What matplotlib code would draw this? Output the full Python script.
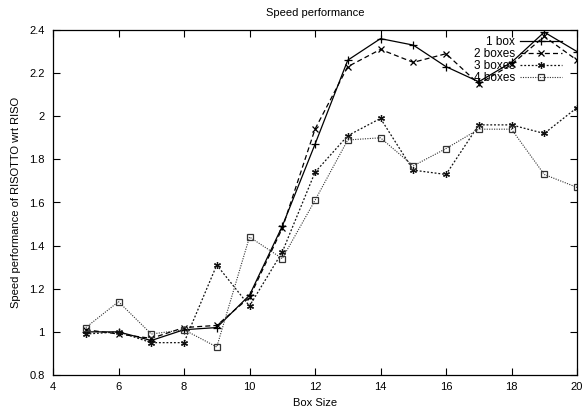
import matplotlib
matplotlib.use("Agg")
import matplotlib.pyplot as plt

plt.rcParams['font.family'] = ['Liberation Sans', 'DejaVu Sans']

box_size = [5, 6, 7, 8, 9, 10, 11, 12, 13, 14, 15, 16, 17, 18, 19, 20]
one_box = [1.00, 1.00, 0.96, 1.01, 1.02, 1.17, 1.49, 1.87, 2.26, 2.36, 2.33, 2.23, 2.16, 2.25, 2.39, 2.30]
two_boxes = [1.01, 0.99, 0.97, 1.02, 1.03, 1.16, 1.48, 1.94, 2.23, 2.31, 2.25, 2.29, 2.15, 2.24, 2.37, 2.26]
three_boxes = [0.99, 1.00, 0.95, 0.95, 1.31, 1.12, 1.37, 1.74, 1.91, 1.99, 1.75, 1.73, 1.96, 1.96, 1.92, 2.04]
four_boxes = [1.02, 1.14, 0.99, 1.01, 0.93, 1.44, 1.34, 1.61, 1.89, 1.90, 1.77, 1.85, 1.94, 1.94, 1.73, 1.67]

fig = plt.figure(figsize=(5.82, 4.11), dpi=100)
L, R, T, B = 53, 577, 30, 375
ax = fig.add_axes([L/582, 1 - B/411, (R-L)/582, (B-T)/411])

ax.plot(box_size, one_box, color='black', lw=0.9, ls='-', marker='+', ms=6, mew=0.9, label='1 box')
ax.plot(box_size, two_boxes, color='black', lw=0.9, ls=(0, (4, 2.5)), marker='x', ms=5, mew=0.9, label='2 boxes')
ax.plot(box_size, three_boxes, color='#111111', lw=0.9, ls=(0, (1.5, 1.5)), marker=(6, 2, 0), ms=5, mew=0.9, label='3 boxes')
ax.plot(box_size, four_boxes, color='#333333', lw=0.8, ls=(0, (1, 1.2)), marker='s', ms=5, mfc='none', mew=0.9, label='4 boxes')

ax.set_xlim(4, 20)
ax.set_ylim(0.8, 2.4)
ax.set_xticks([4, 6, 8, 10, 12, 14, 16, 18, 20])
ax.set_yticks([0.8, 1.0, 1.2, 1.4, 1.6, 1.8, 2.0, 2.2, 2.4])
ax.set_yticklabels(['0.8', '1', '1.2', '1.4', '1.6', '1.8', '2', '2.2', '2.4'])
ax.tick_params(direction='in', top=True, right=True, length=5, width=0.8, labelsize=8)
ax.tick_params(axis='y', pad=6)
ax.tick_params(axis='x', pad=5)
for s in ax.spines.values():
    s.set_linewidth(0.9)

ax.set_title('Speed performance', fontsize=8, pad=10)
ax.set_xlabel('Box Size', fontsize=8, labelpad=4)
ax.set_ylabel('Speed performance of RISOTTO wrt RISO', fontsize=8, labelpad=6)

leg = ax.legend(loc='upper right', bbox_to_anchor=(1 - 9/524, 1.0), frameon=False,
                markerfirst=False, fontsize=8.5,
                handlelength=3.6, handletextpad=0.4, labelspacing=0.0,
                handleheight=0.5, borderaxespad=0.25, borderpad=0.25)

fig.savefig('out.png', dpi=100)
